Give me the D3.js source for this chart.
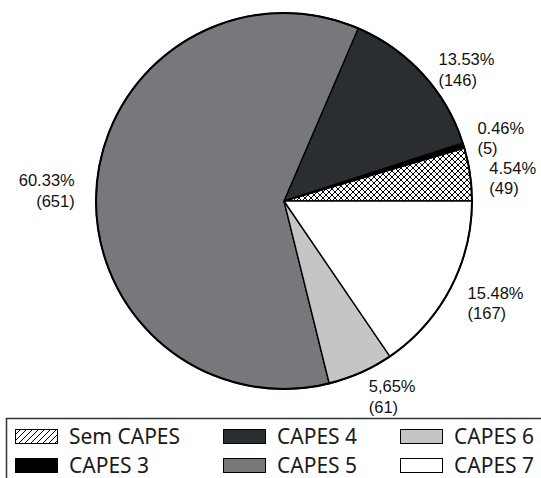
<!DOCTYPE html>
<html><head><meta charset="utf-8">
<script src="https://cdn.jsdelivr.net/npm/d3@7"></script>
<style>body{margin:0;background:#fff}svg{display:block}</style>
</head><body>
<svg id="c" width="541" height="478"></svg>
<script>
const categories = ["Sem CAPES","CAPES 3","CAPES 4","CAPES 5","CAPES 6","CAPES 7"];
const counts = [49,5,146,651,61,167];
const percentLabels = ["4.54%","0.46%","13.53%","60.33%","5,65%","15.48%"];
const fills = ["url(#cross)","#000000","#2b2e31","#76787b","#c4c5c4","#ffffff"];
const legendFills = ["url(#diag)","#000000","#2b2e31","#76787b","#c4c5c4","#ffffff"];

const W = 541, H = 478;
const cx = 284, cy = 201, r = 188;
const svg = d3.select("#c");
const defs = svg.append("defs");

const cross = defs.append("pattern").attr("id","cross").attr("patternUnits","userSpaceOnUse")
  .attr("width",6).attr("height",6);
cross.append("rect").attr("width",6).attr("height",6).attr("fill","#fff");
cross.append("path").attr("d","M0,0L6,6M0,6L6,0M-1,1L1,-1M5,7L7,5M-1,5L1,7M5,-1L7,1")
  .attr("stroke","#000").attr("stroke-width",1);

const diag = defs.append("pattern").attr("id","diag").attr("patternUnits","userSpaceOnUse")
  .attr("width",6).attr("height",6);
diag.append("rect").attr("width",6).attr("height",6).attr("fill","#fff");
diag.append("path").attr("d","M0,6L6,0M-1,1L1,-1M5,7L7,5")
  .attr("stroke","#000").attr("stroke-width",1);

const pie = d3.pie().sort(null).value(d => d)
  .startAngle(Math.PI/2).endAngle(Math.PI/2 - 2*Math.PI);
const arcs = pie(counts);
const arc = d3.arc().innerRadius(0).outerRadius(r);

const g = svg.append("g").attr("transform",`translate(${cx},${cy})`);
g.selectAll("path.slice").data(arcs).join("path")
  .attr("class","slice")
  .attr("d",arc)
  .attr("fill",(d,i)=>fills[i])
  .attr("stroke","#000").attr("stroke-width",1.4).attr("stroke-linejoin","round");
g.append("circle").attr("r",r).attr("fill","none").attr("stroke","#000").attr("stroke-width",2);

// label layout
const labelR = 228;
const nudge = [[3,9],[-1,4],[14,22],[-10,8],[15,-13],[10,-5]];
const lab = svg.append("g").attr("font-family","'Liberation Sans', Arial, sans-serif").attr("font-size",16.5).attr("fill","#111");
arcs.forEach((d,i)=>{
  const a = (d.startAngle + d.endAngle)/2;
  const bx = cx + labelR*Math.sin(a) + nudge[i][0];
  const by = cy - labelR*Math.cos(a) + nudge[i][1];
  const lines = [percentLabels[i], `(${counts[i]})`];
  const t = lab.append("g");
  const texts = lines.map((s,k)=> t.append("text").attr("y", by - 10 + 20.5*k + 6).text(s));
  const w = Math.max(...texts.map(tt=>tt.node().getComputedTextLength()));
  const right = bx >= cx;
  texts.forEach(tt=>{
    if (right) tt.attr("x", bx - w/2).attr("text-anchor","start");
    else tt.attr("x", bx + w/2).attr("text-anchor","end");
  });
});

// legend
svg.append("rect").attr("x",6.5).attr("y",418.5).attr("width",560).attr("height",100)
  .attr("fill","none").attr("stroke","#333").attr("stroke-width",1.5);
const colX = [15, 223, 400];
const rowY = [429, 458];
const lg = svg.append("g").attr("font-family","'Noto Sans', sans-serif").attr("font-size",21).attr("fill","#1a1a1a");
categories.forEach((c,i)=>{
  const col = Math.floor(i/2), row = i%2;
  const x = colX[col], y = rowY[row];
  lg.append("rect").attr("x",x+0.5).attr("y",y+0.5).attr("width",42).attr("height",14)
    .attr("fill",legendFills[i]).attr("stroke","#000").attr("stroke-width",1);
  lg.append("text").attr("x",x+54).attr("y",y+15).text(c);
});
</script>
</body></html>
